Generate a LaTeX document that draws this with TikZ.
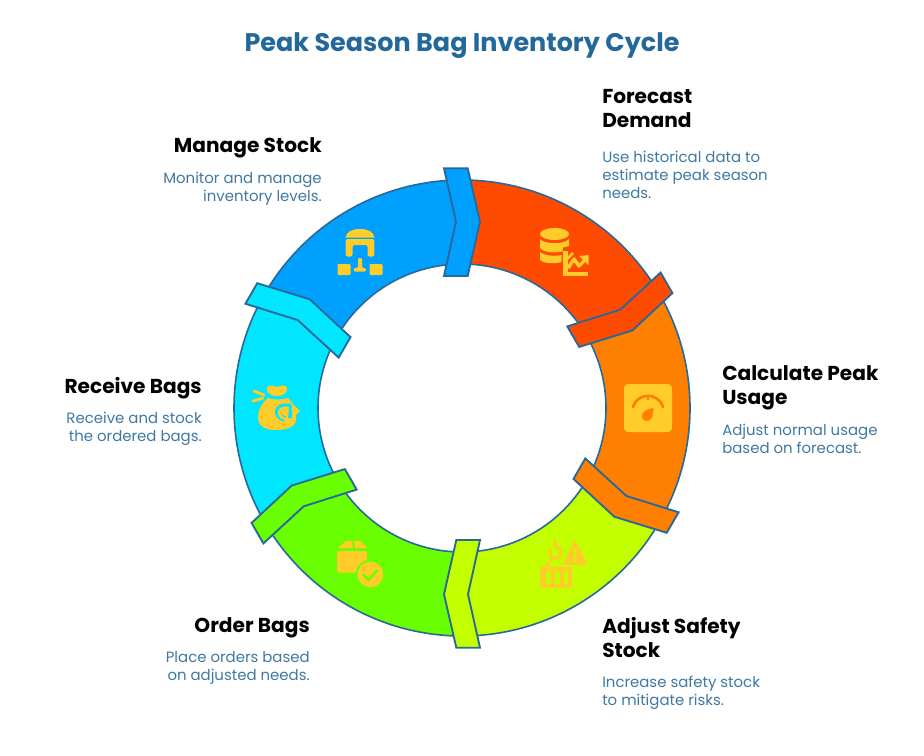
\documentclass[tikz,border=0pt]{standalone}
\usepackage{fontspec}
\setmainfont{Poppins}
\definecolor{cRed}{HTML}{FF4B00}
\definecolor{cOrange}{HTML}{FF8000}
\definecolor{cLime}{HTML}{C4FF00}
\definecolor{cGreen}{HTML}{6AFF00}
\definecolor{cCyan}{HTML}{00E6FF}
\definecolor{cBlue}{HTML}{00A0FF}
\definecolor{cEdge}{HTML}{28689A}
\definecolor{cIcon}{HTML}{FFCC29}
\definecolor{cTitle}{HTML}{23689B}
\definecolor{cDesc}{HTML}{3F79A3}
\tikzset{
  x=.75pt,y=-.75pt,
  ringpart/.style={draw=cEdge,line width=1.2pt,line join=round},
  tabpart/.style={draw=cEdge,line width=1.4pt,line join=miter},
  icon/.style={fill=cIcon,draw=none},
  titletext/.style={inner sep=0pt,text=cTitle,font=\fontsize{19.1}{23}\selectfont\bfseries},
  headL/.style={inner sep=0pt,anchor=north west,align=left,text=black,font=\fontsize{15.1}{18}\selectfont\bfseries},
  headR/.style={inner sep=0pt,anchor=north east,align=right,text=black,font=\fontsize{15.1}{18}\selectfont\bfseries},
  descL/.style={inner sep=0pt,anchor=north west,align=left,text=cDesc,font=\fontsize{11.2}{13.5}\selectfont},
  descR/.style={inner sep=0pt,anchor=north east,align=right,text=cDesc,font=\fontsize{11.2}{13.5}\selectfont},
}
\newcommand{\ringsector}[3]{%
  \draw[ringpart,fill=#3] (#1:171pt) arc[start angle=#1,end angle=#2,radius=171pt]
    -- (#2:108pt) arc[start angle=#2,end angle=#1,radius=108pt] -- cycle;}
\newcommand{\ringtab}[2]{%
  \begin{scope}[rotate around={-60*#1:(462,408)}]
    \draw[tabpart,fill=#2] (444,168.3) -- (467.7,168.3) -- (480,221.7) -- (467.7,276) -- (444,276) -- (456,221.7) -- cycle;
  \end{scope}}
\begin{document}
\begin{tikzpicture}
\useasboundingbox (0,0) rectangle (924,756);
\fill[white] (0,0) rectangle (924,756);
\begin{scope}[shift={(462,408)}]
  \ringsector{150}{90}{cBlue}
  \ringsector{90}{30}{cRed}
  \ringsector{30}{-30}{cOrange}
  \ringsector{-30}{-90}{cLime}
  \ringsector{-90}{-150}{cGreen}
  \ringsector{-150}{-210}{cCyan}
\end{scope}
\ringtab{0}{cBlue}
\ringtab{1}{cRed}
\ringtab{2}{cOrange}
\ringtab{3}{cLime}
\ringtab{4}{cGreen}
\ringtab{5}{cCyan}

% database + chart icon
\fill[icon] (554.5,234) ellipse[x radius=14.5*.75pt,y radius=6*.75pt];
\fill[icon] (540,239) .. controls (544,244.5) and (565,244.5) .. (569,239) -- (569,246) -- (563,247.5) -- (562.5,251.5) .. controls (553,253.5) and (543,252) .. (540,248) -- cycle;
\fill[icon] (540,252) .. controls (545,256) and (555,256.5) .. (561.5,255) -- (561.5,262) .. controls (553,264.5) and (543,263) .. (540,260) -- cycle;
\draw[cIcon,line width=3.1pt] (565.5,251) -- (565.5,274) -- (588,274);
\draw[cIcon,line width=2.6pt,line join=round] (568,268) -- (574,259) -- (579,266) -- (585,260);
\fill[icon] (579,256) -- (588.5,255) -- (588.5,265) -- cycle;
\draw[cIcon,line width=2pt] (567,259) -- (573,253);

% flow icon
\fill[icon] (345.7,237.5) .. controls (346,232) and (352,229) .. (360,229) .. controls (368,229) and (374,232) .. (374.3,237.5) -- cycle;
\fill[icon,rounded corners=1.5pt] (345.7,239) -- (374.3,239) -- (374.3,256.5) -- (367.5,256.5) -- (367.5,245) -- (352.5,245) -- (352.5,256.5) -- (345.7,256.5) -- cycle;
\fill[icon,rounded corners=.8pt] (337.5,264) rectangle (350.5,275);
\fill[icon,rounded corners=.8pt] (369.5,264) rectangle (382.5,275);
\fill[icon,rounded corners=1pt] (358,258) -- (362,258) -- (362,268) -- (366,268) -- (366,271.5) -- (353.5,271.5) -- (353.5,268) -- (358,268) -- cycle;

% bag icon
\fill[icon] (267,390) .. controls (266,384) and (272,385) .. (277,387) .. controls (282,385) and (288,384) .. (287,390) .. controls (286,394) and (282,396) .. (277,396) .. controls (272,396) and (268,394) .. (267,390) -- cycle;
\fill[icon] (268,398) .. controls (273,400) and (282,400) .. (288,398) .. controls (294,403) and (297,412) .. (296,420) .. controls (295,428) and (285,430) .. (275,430) .. controls (264,430) and (258,425) .. (258,417) .. controls (258,410) and (262,403) .. (268,398) -- cycle;
\draw[cIcon,line width=2.2pt,line cap=round] (254,391) -- (264,395);
\draw[cIcon,line width=2.2pt,line cap=round] (253,401) -- (263,398);
\draw[cCyan,line width=4.2pt] (285,419) .. controls (274,417) and (276,404) .. (288,406.5) -- (294,409);
\draw[cIcon,line width=2pt] (285,419) .. controls (276,416) and (278,406) .. (288,408) -- (294,410.5);
\fill[cCyan] (290,400) -- (293,418) -- (288,418) -- cycle;
\fill[icon] (292,403.5) -- (300,411) -- (292,418.5) -- cycle;

% gauge icon
\fill[icon,rounded corners=3pt] (624,384) rectangle (672,432);
\draw[cOrange,line width=2pt,line cap=round] (633,407) arc[start angle=163,end angle=17,radius=11.8pt];
\draw[cOrange,line width=1.6pt] (648,396) -- (648,400);
\fill[cOrange] (653.5,408) .. controls (653,413) and (653,418) .. (650,420) .. controls (646,422.5) and (641.5,420) .. (642,415.5) .. controls (642.5,411) and (648,409) .. (653.5,408) -- cycle;

% crate + warning icon
\draw[cIcon,line width=2.3pt,line cap=round] (555,541) -- (555,546.5) .. controls (563,549) and (563,558) .. (555,558.5) .. controls (551,558.5) and (549,555) .. (550,551);
\draw[cIcon,line width=1.8pt] (545,567) -- (551,560);
\fill[icon,rounded corners=1pt] (540,566.5) rectangle (572,587.5);
\fill[cLime] (546,571) rectangle (551,583.5);
\fill[cLime] (555,571) rectangle (559.5,583.5);
\fill[cLime] (563.5,571) rectangle (568,583.5);
\fill[cLime] (558,563) -- (575,536) -- (592,563) -- (592,568) -- (572,568) -- cycle;
\fill[icon,rounded corners=1.5pt] (575,540) -- (588,564.8) -- (562,564.8) -- cycle;
\draw[cLime,line width=1.5pt] (575,548.5) -- (575,556.5);
\fill[cLime] (575,560.5) circle[radius=1.2pt];

% box + check icon
\fill[icon] (338,548) -- (346,541) -- (352.5,541) -- (352.5,548) -- cycle;
\fill[icon] (354.5,541) -- (360,541) -- (367.5,548) -- (354.5,548) -- cycle;
\fill[icon,rounded corners=1.5pt] (337,551) rectangle (367,572.5);
\fill[cGreen] (370.3,574.5) circle[radius=11pt];
\fill[icon] (370.3,574.5) circle[radius=9.6pt];
\draw[cGreen,line width=2pt,line cap=round,line join=round] (363.5,575) -- (368.5,580) -- (377,570.5);

% texts
\node[titletext] (title) at (462,46) {Peak Season Bag Inventory Cycle};
\node[headL] (h1) at (602,89.5) {Forecast\\Demand};
\node[descL] (d1) at (602,150.5) {Use historical data to\\estimate peak season\\needs.};
\node[headL] (h2) at (722,365.5) {Calculate Peak\\Usage};
\node[descL] (d2) at (722,423.5) {Adjust normal usage\\based on forecast.};
\node[headL] (h3) at (602,617.5) {Adjust Safety\\Stock};
\node[descL] (d3) at (602,675.5) {Increase safety stock\\to mitigate risks.};
\node[headR] (h4) at (310,617.5) {Order Bags};
\node[descR] (d4) at (310,651.5) {Place orders based\\on adjusted needs.};
\node[headR] (h5) at (202,377.5) {Receive Bags};
\node[descR] (d5) at (202,411.5) {Receive and stock\\the ordered bags.};
\node[headR] (h6) at (322,137.5) {Manage Stock};
\node[descR] (d6) at (322,171.5) {Monitor and manage\\inventory levels.};
\end{tikzpicture}
\end{document}
